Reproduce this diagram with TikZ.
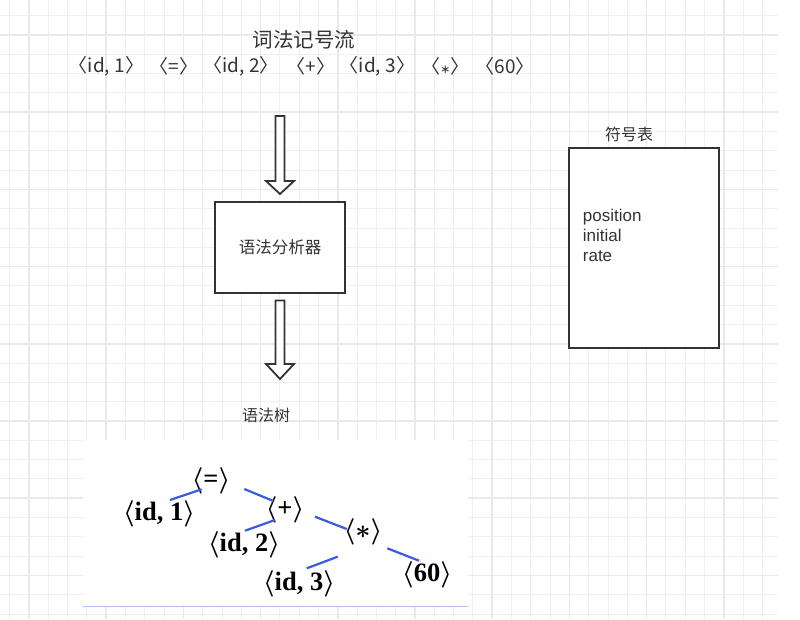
\RequirePackage{fix-cm}
\documentclass[tikz,border=0pt]{standalone}
\usepackage{fontspec}
\setmainfont{Liberation Serif}
\newfontfamily\cjk{Noto Sans CJK SC}
\newfontfamily\lsans{Liberation Sans}
\newfontfamily\djv{DejaVu Sans}
\newcommand\fsz[1]{\fontsize{#1}{#1}\selectfont}
\definecolor{gridminor}{HTML}{F0F0F0}
\definecolor{gridmajor}{HTML}{E9E9E9}
\definecolor{ink}{HTML}{333333}
\definecolor{treeblue}{HTML}{3A5BE0}
\definecolor{imgblue}{HTML}{A9C3F2}
\begin{document}
\begin{tikzpicture}[x=1pt,y=-1pt,
  minorline/.style={draw=gridminor,line width=1pt},
  majorline/.style={draw=gridmajor,line width=1.5pt},
  boxstyle/.style={draw=ink,line width=2pt,fill=white,inner sep=0pt},
  hollowarrow/.style={draw=ink,line width=1.8pt,fill=white,line join=miter},
  cjklabel/.style={inner sep=0pt,text=ink,font=\cjk\fsz{16}},
  token/.style={inner sep=0pt,text=ink,font=\cjk\fsz{19}},
  treenode/.style={inner sep=0pt,text=black,font=\bfseries\boldmath\fsz{26.5}},
  treeline/.style={draw=treeblue,line width=2.2pt}]
\useasboundingbox (0,0) rectangle (800,619);
% grid
\foreach \k in {-1,...,38} \draw[minorline] ({29+19.3*\k},0) -- ({29+19.3*\k},619);
\foreach \k in {-1,...,30} \draw[minorline] (0,{35+19.3*\k}) -- (778,{35+19.3*\k});
\foreach \k in {0,...,9} \draw[majorline] ({29+77.2*\k},0) -- ({29+77.2*\k},619);
\foreach \k in {0,...,7} \draw[majorline] (0,{35+77.2*\k}) -- (778,{35+77.2*\k});
% pasted tree image background
\fill[white] (83,440) rectangle (468,606);
\draw[imgblue,line width=1.2pt] (83,606.5) -- (468,606.5);
% token stream
\node[cjklabel,font=\cjk\fsz{20.5}] (title) at (304,39.5) {词法记号流};
\node[token] (t1) at (106.5,66) {〈id, 1〉};
\node[token] (t2) at (174,66) {〈=〉};
\node[token] (t3) at (241,66) {〈id, 2〉};
\node[token] (t4) at (311,66) {〈+〉};
\node[token] (t5) at (377.5,66) {〈id, 3〉};
\node[token] (t6) at (445.5,66) {〈{\djv\fsz{12}∗}〉};
\node[token] (t7) at (505,66) {〈60〉};
% parser
\node[boxstyle,minimum width=130,minimum height=91,text=ink,font=\cjk\fsz{16.5}] (parser) at (280,247.2) {语法分析器};
\begin{scope}[shift={(parser.north)}]
\draw[hollowarrow] (-4.5,-84.7) -- (4.5,-84.7) -- (4.5,-19.7) -- (14,-19.7) -- (0,-6.7) -- (-14,-19.7) -- (-4.5,-19.7) -- cycle;
\end{scope}
\begin{scope}[shift={(parser.south)}]
\draw[hollowarrow] (-4.5,6.8) -- (4.5,6.8) -- (4.5,70.3) -- (14,70.3) -- (0,85.3) -- (-14,70.3) -- (-4.5,70.3) -- cycle;
\end{scope}
\node[cjklabel,font=\cjk\fsz{16}] (treetitle) at (266,415) {语法树};
% symbol table
\node[boxstyle,minimum width=150,minimum height=200] (symtab) at (644.3,248.3) {};
\node[cjklabel] (symtitle) at (629,134) {符号表};
\node[anchor=north west,inner sep=0pt,align=left,text=ink,font=\lsans\fontsize{17}{20}\selectfont] (syms) at (582.7,208.5) {position\\initial\\rate};
% syntax tree
\node[treenode] (eq) at (211,481) {$\langle$=$\rangle$};
\node[treenode] (id1) at (159,514) {$\langle$id, 1$\rangle$};
\node[treenode] (plus) at (285,510) {$\langle$+$\rangle$};
\node[treenode] (id2) at (244,545) {$\langle$id, 2$\rangle$};
\node[treenode] (star) at (363,532) {$\langle\ast\rangle$};
\node[treenode] (id3) at (299,584) {$\langle$id, 3$\rangle$};
\node[treenode] (sixty) at (427,575) {$\langle$60$\rangle$};
\draw[treeline] ([shift={(-9.3,8.3)}]eq.center) -- ([shift={(11,-14)}]id1.center);
\draw[treeline] ([shift={(33.3,8)}]eq.center) -- ([shift={(-11.7,-9)}]plus.center);
\draw[treeline] ([shift={(-10,10)}]plus.center) -- ([shift={(1,-14.3)}]id2.center);
\draw[treeline] ([shift={(30,6.7)}]plus.center) -- ([shift={(-16.3,-3)}]star.center);
\draw[treeline] ([shift={(-25.3,24.7)}]star.center) -- ([shift={(7.7,-15.7)}]id3.center);
\draw[treeline] ([shift={(24.3,16.3)}]star.center) -- ([shift={(-8,-14.3)}]sixty.center);
\end{tikzpicture}
\end{document}
